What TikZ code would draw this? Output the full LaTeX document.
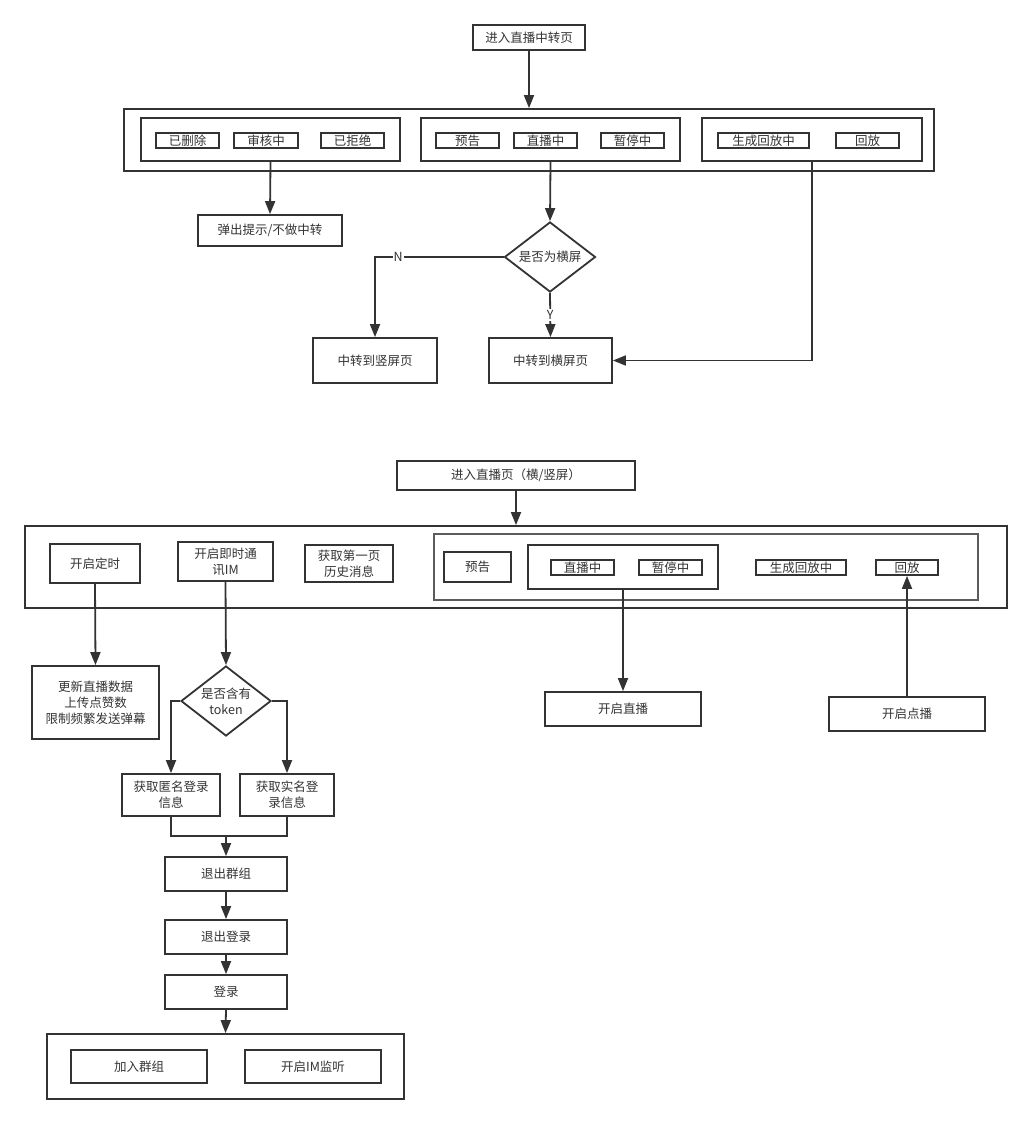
\documentclass[tikz,border=0pt]{standalone}
\usepackage{fontspec}
\newfontfamily\cjk{Noto Sans CJK SC}
\usetikzlibrary{shapes.geometric,arrows.meta}
\definecolor{lc}{HTML}{333333}
\begin{document}
\begin{tikzpicture}[x=1pt,y=-1pt,
  box/.style={draw=lc, line width=1.8pt, inner sep=0pt, align=center, text=lc,
    font=\cjk\fontsize{12.5}{16}\selectfont},
  sbox/.style={box, minimum height=15pt},
  grp/.style={draw=lc, line width=1.8pt, inner sep=0pt},
  dia/.style={box, shape=diamond, aspect=1.3},
  conn/.style={draw=lc, line width=1.8pt},
  arr/.style={conn, -{Triangle[length=13pt,width=10pt]}},
  lab/.style={fill=white, inner sep=1pt, text=lc, font=\cjk\fontsize{12.5}{14}\selectfont}
]
\useasboundingbox (0,0) rectangle (1032,1124);

% ---------------- top section ----------------
\node[box, minimum width=112pt, minimum height=25pt] (t1) at (529,37.5) {进入直播中转页};
\node[grp, minimum width=810pt, minimum height=62pt] (outer1) at (529,140) {};
\node[grp, minimum width=259pt, minimum height=43pt] (g1) at (270.5,139.5) {};
\node[grp, minimum width=259pt, minimum height=43pt] (g2) at (550.5,139.5) {};
\node[grp, minimum width=220pt, minimum height=43pt] (g3) at (812,139.5) {};
\node[sbox, minimum width=63pt] (del) at (187.5,140.5) {已删除};
\node[sbox, minimum width=64pt] (rev) at (266,140.5) {审核中};
\node[sbox, minimum width=63pt] (rej) at (352.5,140.5) {已拒绝};
\node[sbox, minimum width=63pt] (pre1) at (467.5,140.5) {预告};
\node[sbox, minimum width=63pt] (live1) at (545.5,140.5) {直播中};
\node[sbox, minimum width=63pt] (pau1) at (632.5,140.5) {暂停中};
\node[sbox, minimum width=91pt] (gen1) at (763.5,140.5) {生成回放中};
\node[sbox, minimum width=63pt] (rep1) at (867.5,140.5) {回放};

\node[box, minimum width=144pt, minimum height=31pt] (popup) at (270,230.5) {弹出提示/不做中转};
\node[dia, minimum width=91pt, minimum height=70pt] (d1) at (550,257) {是否为横屏};
\node[box, minimum width=124pt, minimum height=45pt] (vbox) at (375,360.5) {中转到竖屏页};
\node[box, minimum width=123pt, minimum height=45pt] (hbox) at (550.5,360.5) {中转到横屏页};

\draw[arr] (t1.south) -- (outer1.north);
\draw[arr] (g1.south) -- (popup.north);
\draw[arr] (g2.south) -- (d1.north);
\draw[arr] (d1.west) -| node[lab, pos=0.41] (nlab) {N} (vbox.north);
\draw[arr] (d1.south) -- node[lab, pos=0.5] (ylab) {Y} (hbox.north);
\draw[arr] (g3.south) |- (hbox.east);

% ---------------- bottom section ----------------
\node[box, minimum width=238pt, minimum height=29pt] (t2) at (516,475.5) {进入直播页（横/竖屏）};
\node[grp, minimum width=982pt, minimum height=82pt] (outer2) at (516,567) {};
\node[box, minimum width=90pt, minimum height=39pt] (timer) at (95,563.5) {开启定时};
\node[box, minimum width=95pt, minimum height=39pt] (im) at (225.5,561.5) {开启即时通\\讯IM};
\node[box, minimum width=88pt, minimum height=37pt] (hist) at (349,563.5) {获取第一页\\历史消息};
\node[grp, draw=lc!80, line width=1.4pt, minimum width=544pt, minimum height=66pt] (inner) at (706,567) {};
\node[box, minimum width=67pt, minimum height=30pt] (pre2) at (477.5,567) {预告};
\node[grp, minimum width=190pt, minimum height=44pt] (sub) at (623,567) {};
\node[sbox, minimum width=63pt] (live2) at (582.5,567.5) {直播中};
\node[sbox, minimum width=63pt] (pau2) at (670.5,567.5) {暂停中};
\node[sbox, minimum width=90pt] (gen2) at (801,567.5) {生成回放中};
\node[sbox, minimum width=62pt] (rep2) at (907,567.5) {回放};

\node[box, minimum width=156pt, minimum height=34pt] (slive) at (623,709) {开启直播};
\node[box, minimum width=156pt, minimum height=34pt] (svod) at (907,714) {开启点播};
\node[box, minimum width=127pt, minimum height=73pt] (upd) at (95.5,702.5) {更新直播数据\\上传点赞数\\限制频繁发送弹幕};
\node[dia, minimum width=90pt, minimum height=70pt] (d2) at (226,701) {是否含有\\token};
\node[box, minimum width=98pt, minimum height=42pt] (anon) at (171,795) {获取匿名登录\\信息};
\node[box, minimum width=94pt, minimum height=42pt] (real) at (287,795) {获取实名登\\录信息};
\coordinate (merge) at (226,836);
\node[box, minimum width=122pt, minimum height=34pt] (exitg) at (226,874) {退出群组};
\node[box, minimum width=122pt, minimum height=34pt] (exitl) at (226,937) {退出登录};
\node[box, minimum width=122pt, minimum height=34pt] (login) at (226,992) {登录};
\node[grp, minimum width=357pt, minimum height=65pt] (outer3) at (225.5,1066.5) {};
\node[box, minimum width=136pt, minimum height=33pt] (join) at (139,1066.5) {加入群组};
\node[box, minimum width=136pt, minimum height=33pt] (listen) at (313,1066.5) {开启IM监听};

\draw[arr] (t2.south) -- (outer2.north);
\draw[arr] (sub.south) -- (slive.north);
\draw[arr] (svod.north) -- (rep2.south);
\draw[arr] (timer.south) -- (upd.north);
\draw[arr] (im.south) -- (d2.north);
\draw[arr] (d2.west) -| (anon.north);
\draw[arr] (d2.east) -| (real.north);
\draw[conn] (anon.south) |- (merge) -| (real.south);
\draw[arr] (merge) -- (exitg.north);
\draw[arr] (exitg.south) -- (exitl.north);
\draw[arr] (exitl.south) -- (login.north);
\draw[arr] (login.south) -- (outer3.north);
\end{tikzpicture}
\end{document}
